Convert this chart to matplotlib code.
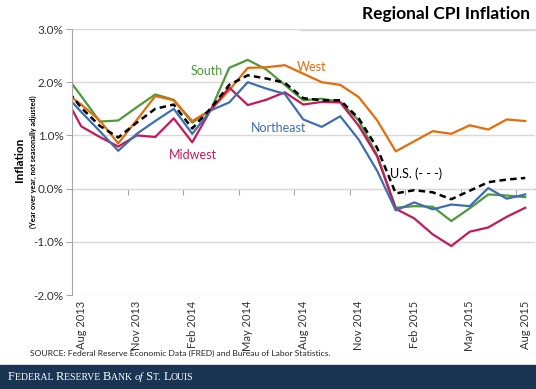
import numpy as np
import matplotlib
matplotlib.use('Agg')
import matplotlib.pyplot as plt
from matplotlib.lines import Line2D
from matplotlib.patches import Rectangle

plt.rcParams['font.family'] = ['Lato', 'DejaVu Sans']

# months Jul 2013 .. Aug 2015 (Jul 2013 sits left of the axis, only its segment shows)
x = np.arange(-1, 25)
tick_pos = [0, 3, 6, 9, 12, 15, 18, 21, 24]
tick_labels = ['Aug 2013', 'Nov 2013', 'Feb 2014', 'May 2014', 'Aug 2014',
               'Nov 2014', 'Feb 2015', 'May 2015', 'Aug 2015']

south = [2.20, 1.74, 1.26, 1.28, 1.53, 1.77, 1.67, 1.24, 1.48, 2.27, 2.42, 2.24, 1.95,
         1.66, 1.69, 1.63, 1.28, 0.62, -0.36, -0.33, -0.34, -0.61, -0.37, -0.11, -0.13, -0.16]
west = [1.84, 1.58, 1.28, 0.85, 1.29, 1.74, 1.66, 1.27, 1.48, 1.85, 2.27, 2.28, 2.32,
        2.16, 2.00, 1.95, 1.72, 1.28, 0.70, 0.89, 1.08, 1.03, 1.19, 1.11, 1.30, 1.27]
midwest = [1.81, 1.17, 0.97, 0.79, 1.00, 0.97, 1.32, 0.87, 1.48, 1.90, 1.57, 1.67, 1.81,
           1.58, 1.63, 1.62, 1.18, 0.60, -0.38, -0.56, -0.86, -1.08, -0.81, -0.73, -0.53, -0.36]
northeast = [1.82, 1.44, 1.08, 0.71, 1.03, 1.27, 1.50, 1.03, 1.47, 1.62, 2.00, 1.88, 1.78,
             1.30, 1.16, 1.36, 0.92, 0.33, -0.41, -0.26, -0.39, -0.30, -0.33, 0.01, -0.19, -0.11]
us = [1.96, 1.52, 1.18, 0.96, 1.24, 1.50, 1.58, 1.13, 1.51, 1.95, 2.13, 2.07, 1.99,
      1.70, 1.66, 1.66, 1.32, 0.76, -0.09, -0.03, -0.07, -0.20, -0.04, 0.12, 0.17, 0.20]

c_south = '#4e9a3a'
c_west = '#e46c0a'
c_mid = '#c3185a'
c_ne = '#3f6eaf'

fig = plt.figure(figsize=(5.36, 3.89), dpi=100)
ax = fig.add_axes([72/536, 1-295/389, (534.5-72)/536, (295-29)/389])

ax.plot(x, south, color=c_south, lw=1.6)
ax.plot(x, west, color=c_west, lw=1.6)
ax.plot(x, midwest, color=c_mid, lw=1.6)
ax.plot(x, northeast, color=c_ne, lw=1.6)
ax.plot(x, us, color='black', lw=1.8, ls=(0, (2.6, 1.7)))

ax.set_xlim(-0.5, 24.5)
ax.set_ylim(-2, 3)
yt = [-2, -1, 0, 1, 2, 3]
ax.set_yticks(yt, ['%.1f%%' % v for v in yt])
ax.yaxis.grid(True, color='#d9d9d9', lw=1)
ax.set_axisbelow(True)
for s in ['top', 'right', 'bottom']:
    ax.spines[s].set_visible(False)
ax.spines['left'].set_color('#a6a6a6')
ax.tick_params(axis='y', length=4, color='#a6a6a6', labelsize=8.5,
               labelcolor='#333333', pad=2)
ax.set_xticks(tick_pos, tick_labels, rotation=90)
ax.tick_params(axis='x', length=0, labelsize=8, labelcolor='#333333', pad=4)

# horizontal axis line at 0% with tick marks between categories
sec = ax.secondary_xaxis(0.4)
sec.set_xticks(np.arange(-0.5, 24.6, 3), [])
sec.tick_params(length=4, color='#a6a6a6', direction='out')
sec.spines['bottom'].set_color('#a6a6a6')

ax.text(6.78, 2.21, 'South', color=c_south, fontsize=9, ha='center', va='center')
ax.text(12.46, 2.29, 'West', color=c_west, fontsize=9, ha='center', va='center')
ax.text(10.64, 1.13, 'Northeast', color=c_ne, fontsize=9, ha='center', va='center')
ax.text(6.04, 0.64, 'Midwest', color=c_mid, fontsize=9, ha='center', va='center')
ax.text(18.1, 0.28, 'U.S. (- - -)', color='black', fontsize=9, ha='center', va='center')

fig.text(0.988, 1-14/389, 'Regional CPI Inflation', ha='right', va='center',
         weight='bold', fontsize=12.5)
fig.add_artist(Line2D([300/536, 1], [1-29.5/389]*2, color='#d9d9d9', lw=1))

fig.text(20/536, 1-160/389, 'Inflation', rotation=90, ha='center', va='center',
         weight='bold', fontsize=8.5)
fig.text(33/536, 1-162/389, '(Year over year, not seasonally adjusted)', rotation=90,
         ha='center', va='center', weight='bold', fontsize=5.3)

fig.text(30/536, 1-353/389,
         'SOURCE: Federal Reserve Economic Data (FRED) and Bureau of Labor Statistics.',
         fontsize=6.1, va='center', color='#222222')

fig.add_artist(Rectangle((0, 0), 1, 24/389, transform=fig.transFigure,
                         color='#1a3554', zorder=0))

# small caps footer
parts = [('F', 9, 'normal'), ('EDERAL ', 7, 'normal'), ('R', 9, 'normal'),
         ('ESERVE ', 7, 'normal'), ('B', 9, 'normal'), ('ANK ', 7, 'normal'),
         ('of', 8, 'italic'), (' S', 9, 'normal'), ('T. ', 7, 'normal'),
         ('L', 9, 'normal'), ('OUIS', 7, 'normal')]
renderer = fig.canvas.get_renderer()
xpos = 8
for txt, size, style in parts:
    t = fig.text(xpos/536, 1-380/389, txt, fontsize=size, style=style, color='white',
                 family='Liberation Serif', va='baseline')
    bb = t.get_window_extent(renderer)
    xpos += bb.width

fig.savefig('out.png', dpi=100)
